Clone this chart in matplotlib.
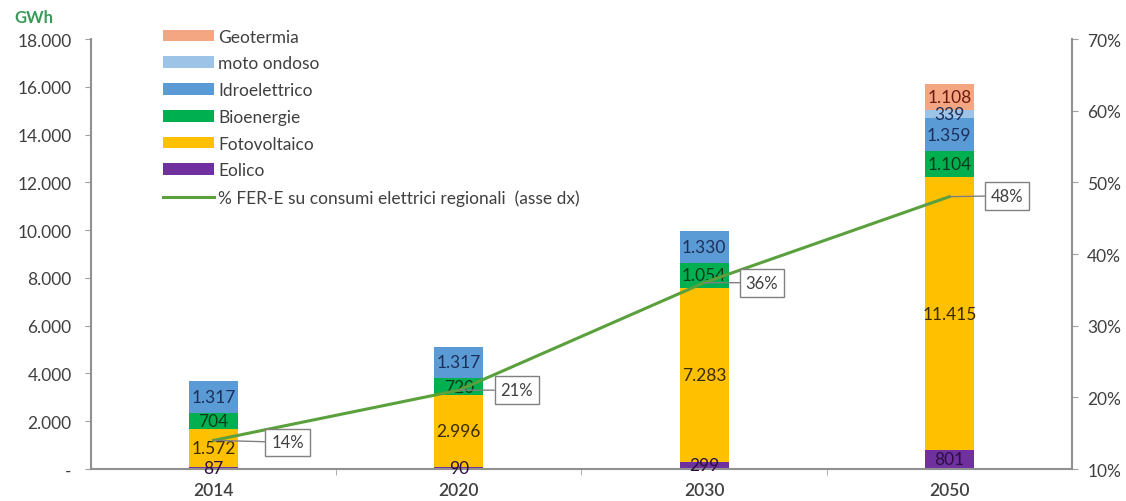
import matplotlib
matplotlib.use('Agg')
import matplotlib.pyplot as plt
import numpy as np

plt.rcParams['font.family'] = ['Lato', 'DejaVu Sans']

years = ['2014', '2020', '2030', '2050']
eolico = [87, 90, 299, 801]
fotovoltaico = [1572, 2996, 7283, 11415]
bioenergie = [704, 720, 1054, 1104]
idroelettrico = [1317, 1317, 1330, 1359]
moto_ondoso = [0, 0, 0, 339]
geotermia = [0, 0, 0, 1108]
fer_pct = [14, 21, 36, 48]

series = [
    ('Eolico', eolico, '#7030A0', '#2a1040'),
    ('Fotovoltaico', fotovoltaico, '#FFC000', '#3a2a00'),
    ('Bioenergie', bioenergie, '#00B050', '#0b3a1a'),
    ('Idroelettrico', idroelettrico, '#5B9BD5', '#1c2f5a'),
    ('moto ondoso', moto_ondoso, '#9DC3E6', '#1c2f5a'),
    ('Geotermia', geotermia, '#F4A582', '#6b1a10'),
]

fig = plt.figure(figsize=(11.26, 5.02), dpi=100)
ax = fig.add_axes([0.0808, 0.0637, 0.8712, 0.8566])
x = np.arange(len(years))
w = 0.2

bottom = np.zeros(len(years))
handles = {}
for name, vals, col, tcol in series:
    vals = np.array(vals, dtype=float)
    b = ax.bar(x, vals, w, bottom=bottom, color=col, label=name, zorder=2)
    handles[name] = b
    for i, v in enumerate(vals):
        if v > 0:
            lab = f"{int(v):,}".replace(',', '.')
            ax.text(x[i], bottom[i] + v / 2, lab, ha='center', va='center',
                    fontsize=12.5, color=tcol, zorder=3)
    bottom += vals

ax.set_xlim(-0.5, len(years) - 0.5)
ax.set_ylim(0, 18000)
ax.set_yticks(np.arange(0, 18001, 2000))
ax.set_yticklabels(['-'] + [f"{v:,}".replace(',', '.') for v in range(2000, 18001, 2000)])
ax.set_xticks(x)
ax.set_xticklabels(years, fontweight='semibold')
ax.set_xticks(np.arange(0.5, len(years) - 1, 1), minor=True)
ax.tick_params(axis='x', which='major', length=0, pad=9, labelsize=12.5, labelcolor='#404040')
ax.tick_params(axis='x', which='minor', length=4, color='#a0a0a0')
ax.tick_params(axis='y', length=4, color='#a0a0a0', labelsize=12.5, labelcolor='#404040', pad=10)
for s in ['top', 'right']:
    ax.spines[s].set_visible(False)
for s in ['left', 'bottom']:
    ax.spines[s].set_color('#909090')
    ax.spines[s].set_linewidth(1.5)

ax2 = ax.twinx()
ax2.set_ylim(10, 70)
ax2.set_yticks(np.arange(10, 71, 10))
ax2.set_yticklabels([f"{v}%" for v in range(10, 71, 10)])
ax2.tick_params(axis='y', length=4, color='#a0a0a0', labelsize=12.5, labelcolor='#404040', pad=7)
for s in ['top', 'left', 'bottom']:
    ax2.spines[s].set_visible(False)
ax2.spines['right'].set_color('#909090')
ax2.spines['right'].set_linewidth(1.5)
line, = ax2.plot(x, fer_pct, color='#5aa03c', lw=2.2, zorder=4,
                 label='% FER-E su consumi elettrici regionali  (asse dx)')

offsets = [(74, -2), (58, 0), (58, 0), (58, 1)]
for i, p in enumerate(fer_pct):
    ax2.annotate(f"{p}%", (x[i], p), xytext=offsets[i], textcoords='offset pixels',
                 ha='center', va='center', fontsize=12, color='#404040',
                 bbox=dict(boxstyle='square,pad=0.35', fc='white', ec='#808080', lw=1),
                 arrowprops=dict(arrowstyle='-', color='#808080', lw=1,
                                 shrinkA=0, shrinkB=0), zorder=5)

order = ['Geotermia', 'moto ondoso', 'Idroelettrico', 'Bioenergie', 'Fotovoltaico', 'Eolico']
leg = fig.legend([handles[n] for n in order] + [line], order + [line.get_label()],
                 loc='upper left', bbox_to_anchor=(0.139, 0.955), frameon=False,
                 fontsize=12.5, handlelength=2.9, handleheight=0.65, labelspacing=0.62,
                 handletextpad=0.25, labelcolor='#404040', borderaxespad=0)

fig.text(0.013, 0.955, 'GWh', color='#3a9a5a', fontsize=12, fontweight='bold')

fig.savefig('out.png', dpi=100)
